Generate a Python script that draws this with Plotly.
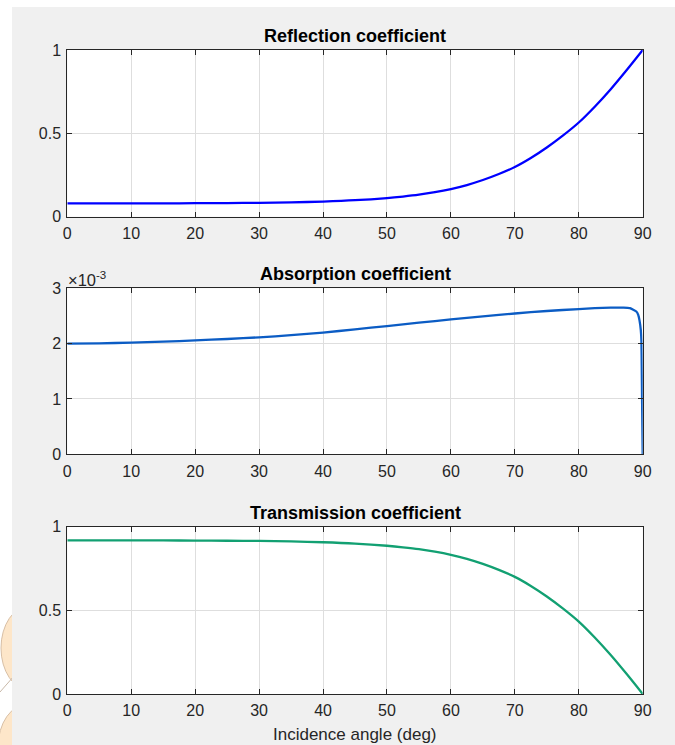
import plotly.graph_objects as go

# ---- data ----
angle_rt = [0, 5, 10, 15, 20, 25, 30, 35, 40, 45, 50, 52.5, 55, 57.5, 60, 62.5, 65,
            67.5, 70, 72.5, 75, 77.5, 80, 82.5, 85, 87.5, 90]
reflection = [0.080, 0.080, 0.080, 0.080, 0.081, 0.082, 0.083, 0.086, 0.091, 0.099,
              0.112, 0.121, 0.132, 0.147, 0.166, 0.190, 0.220, 0.256, 0.298, 0.352,
              0.415, 0.486, 0.565, 0.660, 0.765, 0.880, 1.000]
transmission = [0.918, 0.918, 0.918, 0.918, 0.917, 0.916, 0.915, 0.912, 0.907, 0.899,
                0.886, 0.877, 0.866, 0.851, 0.832, 0.808, 0.778, 0.742, 0.700, 0.646,
                0.583, 0.512, 0.433, 0.338, 0.233, 0.119, 0.000]
angle_a = [0, 5, 10, 15, 20, 25, 30, 35, 40, 45, 50, 55, 60, 65, 70, 75, 80, 82.5, 85,
           87, 88, 89, 89.3, 89.5, 89.7, 89.8, 89.85, 89.9, 89.95, 90]
absorption = [2.000e-3, 2.005e-3, 2.018e-3, 2.036e-3, 2.058e-3, 2.084e-3, 2.114e-3,
              2.152e-3, 2.200e-3, 2.258e-3, 2.318e-3, 2.378e-3, 2.438e-3, 2.494e-3,
              2.545e-3, 2.590e-3, 2.625e-3, 2.640e-3, 2.650e-3, 2.650e-3, 2.640e-3,
              2.580e-3, 2.520e-3, 2.420e-3, 2.250e-3, 2.050e-3, 1.600e-3, 1.000e-3,
              0.500e-3, 0.0]

x_ticks = [0, 10, 20, 30, 40, 50, 60, 70, 80, 90]
rt_ticks = [0, 0.5, 1]
rt_ticktext = ["0", "0.5", "1"]
abs_ticks = [0, 1e-3, 2e-3, 3e-3]
abs_ticktext = ["0", "1", "2", "3"]
titles = ["Reflection coefficient", "Absorption coefficient", "Transmission coefficient"]
xlabel = "Incidence angle (deg)"

W, H = 675, 745
FONT = "Liberation Sans, Arial, Helvetica, sans-serif"
TXT = "#262626"
FIG_BG = "#f0f0f0"

# axes pixel boxes (left, right, top, bottom)
x0, x1 = 67.3, 642.7
boxes = [(50, 216.7), (288.3, 454.3), (526.7, 694.0)]

def px(x):
    return x / W

def py(y):
    return 1 - y / H

fig = go.Figure()

fig.add_trace(go.Scatter(x=angle_rt, y=reflection, mode="lines",
                         line=dict(color="#0000ff", width=2.3, shape="spline", smoothing=0.8),
                         xaxis="x", yaxis="y", showlegend=False))
fig.add_trace(go.Scatter(x=angle_a, y=absorption, mode="lines",
                         line=dict(color="#0b5cc4", width=2.3, shape="spline", smoothing=0.5),
                         xaxis="x2", yaxis="y2", showlegend=False))
fig.add_trace(go.Scatter(x=angle_rt, y=transmission, mode="lines",
                         line=dict(color="#12a072", width=2.3, shape="spline", smoothing=0.8),
                         xaxis="x3", yaxis="y3", showlegend=False))

common_x = dict(range=[0, 90], tickvals=x_ticks, ticks="inside", ticklen=5, tickcolor=TXT,
                showline=True, linecolor=TXT, linewidth=1, mirror="allticks",
                showgrid=True, gridcolor="#dedede", gridwidth=1, zeroline=False,
                tickfont=dict(family=FONT, size=16, color=TXT), ticklabelstandoff=2,
                domain=[px(x0), px(x1)], fixedrange=True, automargin=False)
common_y = dict(ticks="inside", ticklen=5, tickcolor=TXT,
                showline=True, linecolor=TXT, linewidth=1, mirror="allticks",
                showgrid=True, gridcolor="#dedede", gridwidth=1, zeroline=False,
                tickfont=dict(family=FONT, size=16, color=TXT), ticklabelstandoff=2,
                fixedrange=True, automargin=False)

layout = dict(width=W, height=H, margin=dict(l=0, r=0, t=0, b=0, pad=0), autosize=False,
              paper_bgcolor=FIG_BG, plot_bgcolor="white", showlegend=False)

yspecs = [(rt_ticks, rt_ticktext, [0, 1]), (abs_ticks, abs_ticktext, [0, 3e-3]), (rt_ticks, rt_ticktext, [0, 1])]
for i, ((top, bot), (tv, tt, rng)) in enumerate(zip(boxes, yspecs)):
    sfx = "" if i == 0 else str(i + 1)
    xa = dict(common_x, anchor="y" + sfx)
    ya = dict(common_y, anchor="x" + sfx, domain=[py(bot), py(top)], range=rng, tickvals=tv, ticktext=tt)
    layout["xaxis" + sfx] = xa
    layout["yaxis" + sfx] = ya

title_y = [36, 274, 513]
annotations = []
for t, yy in zip(titles, title_y):
    annotations.append(dict(text="<b>" + t + "</b>", x=px((x0 + x1) / 2), y=py(yy), xref="paper", yref="paper",
                            xanchor="center", yanchor="middle", showarrow=False,
                            font=dict(family=FONT, size=18, color="#000000")))
annotations.append(dict(text="×10<sup>-3</sup>", x=px(66), y=py(279), xref="paper", yref="paper",
                        xanchor="left", yanchor="middle", showarrow=False,
                        font=dict(family=FONT, size=16.5, color=TXT)))
annotations.append(dict(text=xlabel, x=px((x0 + x1) / 2), y=py(734), xref="paper", yref="paper",
                        xanchor="center", yanchor="middle", showarrow=False,
                        font=dict(family=FONT, size=17, color=TXT)))
layout["annotations"] = annotations

shapes = [
    # white page strips outside the grey figure window
    dict(type="rect", xref="paper", yref="paper", x0=0, x1=px(12), y0=0, y1=1,
         fillcolor="white", line=dict(width=0), layer="below"),
    dict(type="rect", xref="paper", yref="paper", x0=0, x1=1, y0=py(7), y1=1,
         fillcolor="white", line=dict(width=0), layer="below"),
    # faint watermark pieces at the left edge
    dict(type="circle", xref="paper", yref="paper", x0=px(1), x1=px(58), y0=py(690), y1=py(606),
         fillcolor="#fde6c9", line=dict(color="#d8bfa5", width=1), layer="below"),
    dict(type="circle", xref="paper", yref="paper", x0=px(-2), x1=px(58), y0=py(790), y1=py(704),
         fillcolor="#fde6c9", line=dict(color="#d8bfa5", width=1), layer="below"),
    dict(type="line", xref="paper", yref="paper", x0=px(0), x1=px(14), y0=py(692), y1=py(676),
         line=dict(color="#c8b8a8", width=1), layer="below"),
    # grey patch restoring the figure window over the watermark overflow
    dict(type="rect", xref="paper", yref="paper", x0=px(12), x1=px(66.5), y0=0, y1=py(560),
         fillcolor=FIG_BG, line=dict(width=0), layer="below"),
]
layout["shapes"] = shapes

fig.update_layout(**layout)
fig.write_html("out.html", config={"displayModeBar": False, "staticPlot": True},
               post_script="document.body.style.margin='0';document.body.style.padding='0';")
